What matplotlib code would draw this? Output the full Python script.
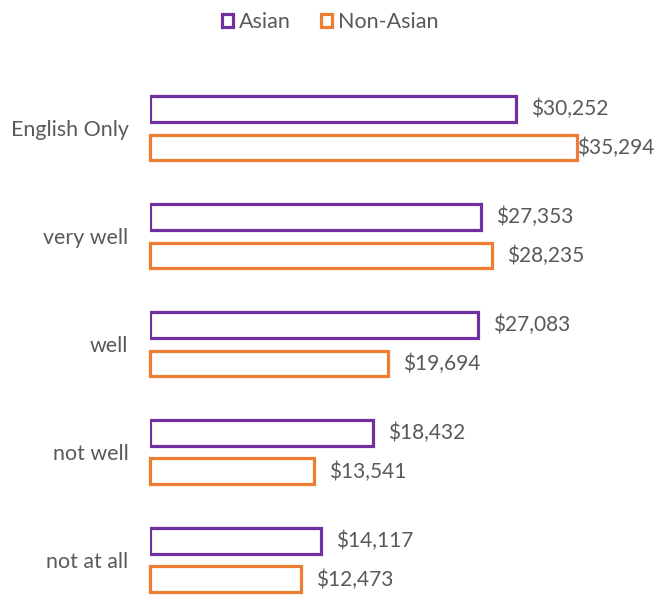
import numpy as np
import matplotlib.pyplot as plt
from matplotlib.patches import Patch

plt.rcParams['font.family'] = ['Lato', 'DejaVu Sans']

# Data
categories = ['English Only', 'very well', 'well', 'not well', 'not at all']
asian = [30252, 27353, 27083, 18432, 14117]
non_asian = [35294, 28235, 19694, 13541, 12473]

purple = '#7030A0'
orange = '#ED7D31'
gray = '#595959'

fig = plt.figure(figsize=(6.57, 5.95), dpi=100)
ax = fig.add_axes([150 / 657, 0, 484 / 657, 535 / 595])

y = np.arange(len(categories))
off = 0.18
h = 0.24

ax.barh(y - off, asian, height=h, facecolor='white', edgecolor=purple, linewidth=2.3)
ax.barh(y + off, non_asian, height=h, facecolor='white', edgecolor=orange, linewidth=2.3, clip_on=False)

# labels next to bar ends (kept inside the chart area like Excel does)
for yi, v in zip(y - off, asian):
    ax.text(min(v + 1250, 35300), yi, f'${v:,}', va='center', ha='left', fontsize=15, color=gray)
for yi, v in zip(y + off, non_asian):
    ax.text(min(v + 1250, 35300), yi, f'${v:,}', va='center', ha='left', fontsize=15, color=gray)

ax.set_xlim(0, 40000)
ax.set_ylim(4.324, -0.63)
ax.set_yticks(y)
ax.set_yticklabels(categories, fontsize=15.4, color=gray)
ax.tick_params(axis='y', length=0, pad=15.5)
ax.set_xticks([])
for s in ax.spines.values():
    s.set_visible(False)

handles = [Patch(facecolor='white', edgecolor=purple, linewidth=2.3, label='Asian'),
           Patch(facecolor='white', edgecolor=orange, linewidth=2.3, label='Non-Asian')]
leg = fig.legend(handles=handles, loc='upper center', bbox_to_anchor=(0.503, 1.012), ncol=2,
                 frameon=False, fontsize=15.5, handlelength=0.5, handleheight=0.5,
                 handletextpad=0.3, columnspacing=1.4)
for t in leg.get_texts():
    t.set_color(gray)

plt.savefig('out.png', dpi=100)
